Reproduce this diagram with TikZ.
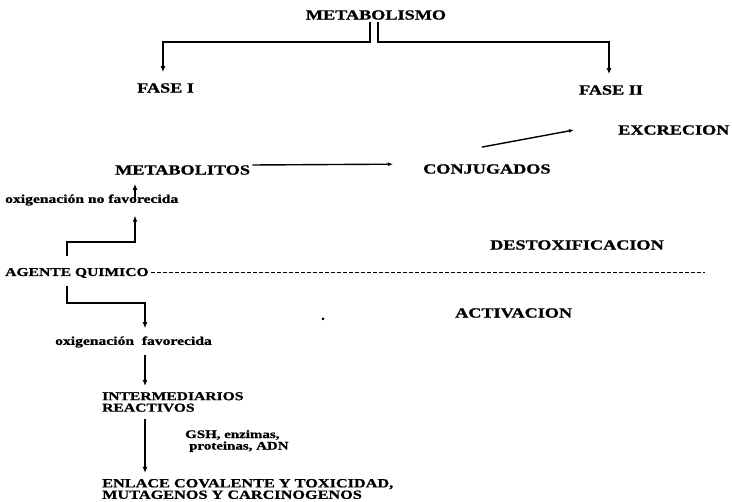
\documentclass[tikz,border=0pt]{standalone}
\usepackage{fontspec}
\setmainfont{Liberation Serif}[FakeStretch=1.3, BoldFeatures={FakeBold=1}]
\usetikzlibrary{arrows.meta}

\begin{document}
\begin{tikzpicture}[x=1pt, y=-1pt,
    big/.style={font=\bfseries\fontsize{14}{16}\selectfont, inner sep=2pt, anchor=west},
    mid/.style={font=\bfseries\fontsize{12}{11.5}\selectfont, inner sep=2pt, anchor=west, align=left},
    small/.style={font=\bfseries\fontsize{11.5}{11.5}\selectfont, inner sep=2pt, anchor=west, align=left},
    arr/.style={-{Latex[length=6pt,width=5pt]}, line width=1.4pt},
    dotarr/.style={-{Latex[length=5pt,width=4pt]}, line width=1.4pt}]
\useasboundingbox (0,0) rectangle (732,502);
% columns of the arrows
\coordinate (c1) at (67,0);
\coordinate (c2) at (135,0);
\coordinate (c3) at (145,0);
\coordinate (c4) at (163,0);
\coordinate (c5) at (609,0);
\coordinate (dashend) at (705,273);

\node[big, anchor=center] (meta) at (376,15) {METABOLISMO};
\node[big] (fase1) at (135,88) {FASE I};
\node[big, anchor=center] (fase2) at (611,90) {FASE II};
\node[big] (excr) at (616,130) {EXCRECION};
\node[big] (metab) at (113,170) {METABOLITOS};
\node[big] (conj) at (421,169) {CONJUGADOS};
\node[small, font=\bfseries\fontsize{12}{12}\selectfont] (oxno) at (3,200) {oxigenación no favorecida};
\node[mid] (agente) at (3,273) {AGENTE QUIMICO};
\node[big] (destox) at (488,245) {DESTOXIFICACION};
\node[big] (activ) at (453,313) {ACTIVACION};
\node[small, font=\bfseries\fontsize{12}{12}\selectfont] (oxfav) at (53,342) {oxigenación\ \ favorecida};
\node[mid] (inter) at (100,402) {INTERMEDIARIOS\\REACTIVOS};
\node[small] (gsh) at (183,441) {GSH, enzimas,\\\hspace{4pt}proteinas, ADN};
\node[mid, font=\bfseries\fontsize{12.5}{11.5}\selectfont] (enlace) at (100,489) {ENLACE COVALENTE Y TOXICIDAD,\\MUTAGENOS Y CARCINOGENOS};

% fases
\draw[arr, shorten >=9pt] ([xshift=-6pt]meta.south) -- ++(0,20) -| (fase1.north -| c4);
\draw[arr, shorten >=9pt] ([xshift=2pt]meta.south) -- ++(0,20) -| (fase2.north -| c5);
% conjugacion y excrecion
\draw[dotarr, shorten >=28pt] ([yshift=5pt]metab.east) -- ([yshift=5pt]conj.west);
\draw[dotarr] ([xshift=-5pt,yshift=15pt]conj.north) -- ([xshift=-42pt]excr.west);
% destoxificacion
\draw[arr, shorten <=10pt, shorten >=8pt] (agente.north -| c1) -- ++(0,-24) -| (oxno.south -| c2);
\draw[arr, shorten >=7pt] (oxno.center -| c2) -- (metab.south -| c2);
\draw[dash pattern=on 4pt off 2pt, line width=1pt] (agente.east) -- (dashend);
% activacion
\draw[arr, shorten <=6pt, shorten >=6pt] (agente.south -| c1) -- ++(0,23) -| (oxfav.north -| c3);
\draw[arr, shorten <=5pt, shorten >=4pt] (oxfav.south -| c3) -- (inter.north -| c3);
\draw[arr, shorten <=5pt, shorten >=4pt] (inter.south -| c3) -- (enlace.north -| c3);
\fill (323,319) circle (1.5pt);
\end{tikzpicture}
\end{document}
